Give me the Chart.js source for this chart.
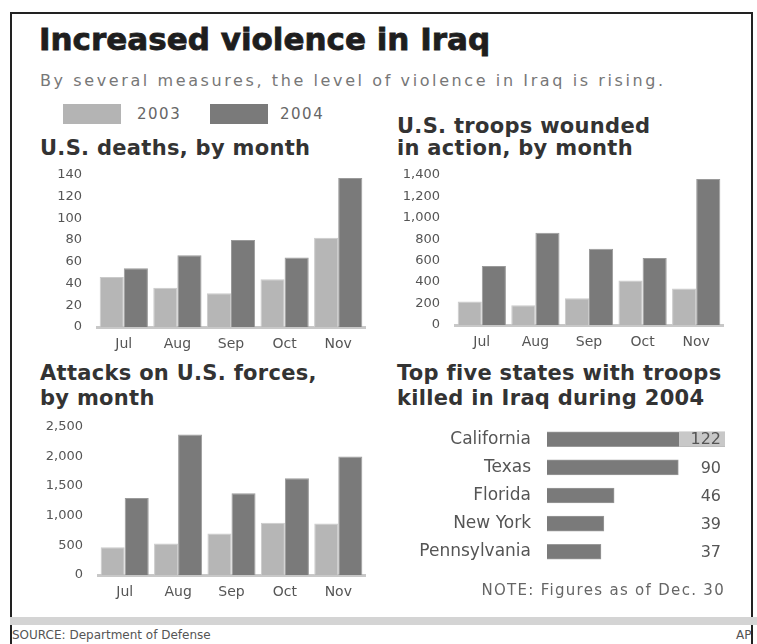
<!DOCTYPE html>
<html>
<head>
<meta charset="utf-8">
<script src="https://cdn.jsdelivr.net/npm/chart.js@4.4.0/dist/chart.umd.min.js"></script>
<style>
    body { margin: 0; background: #fff; width: 757px; height: 644px; overflow: hidden; position: relative; font-family: "DejaVu Sans", sans-serif; }
    .abs { position: absolute; white-space: nowrap; }
    .frame { left: 10px; top: 12px; width: 739px; height: 700px; border: 2px solid #222; }
    .title { left: 39px; top: 24px; font-size: 31px; line-height: 31px; font-weight: bold; color: #1e1e1e; -webkit-text-stroke: 0.8px #1e1e1e; }
    .sub { left: 40px; top: 72px; font-size: 16px; line-height: 18px; color: #777; letter-spacing: 2.6px; }
    .head { font-size: 21px; line-height: 21px; font-weight: bold; color: #333; letter-spacing: 0.3px; }
    .swatch { width: 58px; height: 20px; }
    .legtxt { font-size: 15px; line-height: 15px; color: #666; letter-spacing: 1.5px; }
    .note { right: 32px; top: 581px; font-size: 15px; color: #666; letter-spacing: 1.3px; }
    .band { left: 10px; top: 617px; width: 747px; height: 8px; background: #d4d4d4; }
    .source { left: 12px; top: 628px; font-size: 12px; color: #555; }
    canvas { position: absolute; }
</style>
</head>
<body>
<div class="abs frame"></div>
<div class="abs title">Increased violence in Iraq</div>
<div class="abs sub">By several measures, the level of violence in Iraq is rising.</div>

<div class="abs swatch" style="left:63px; top:104px; background:#b4b4b4;"></div>
<div class="abs legtxt" style="left:137px; top:107px;">2003</div>
<div class="abs swatch" style="left:210px; top:104px; background:#7a7a7a;"></div>
<div class="abs legtxt" style="left:280px; top:107px;">2004</div>

<div class="abs head" style="left:40px; top:138px;">U.S. deaths, by month</div>
<div class="abs head" style="left:397px; top:116px;">U.S. troops wounded</div>
<div class="abs head" style="left:397px; top:138px;">in action, by month</div>
<div class="abs head" style="left:40px; top:363px;">Attacks on U.S. forces,</div>
<div class="abs head" style="left:40px; top:388px;">by month</div>
<div class="abs head" style="left:397px; top:363px;">Top five states with troops</div>
<div class="abs head" style="left:397px; top:388px;">killed in Iraq during 2004</div>

<canvas id="deaths" style="left:40px; top:160px;" width="330" height="197"></canvas>
<canvas id="wounded" style="left:398px; top:160px;" width="330" height="195"></canvas>
<canvas id="attacks" style="left:41px; top:412px;" width="329" height="193"></canvas>
<canvas id="states" style="left:397px; top:407px;" width="340" height="177"></canvas>

<div class="abs note">NOTE: Figures as of Dec. 30</div>
<div class="abs band"></div>
<div class="abs source">SOURCE: Department of Defense</div>
<div class="abs source" style="left:736px;">AP</div>

<script>
// month categories
const months = ['Jul', 'Aug', 'Sep', 'Oct', 'Nov'];
const years = ['2003', '2004'];

// U.S. deaths, by month
const deaths2003 = [46, 36, 31, 44, 82];
const deaths2004 = [54, 66, 80, 64, 137];
const deathTicks = [0, 20, 40, 60, 80, 100, 120, 140];

// U.S. troops wounded in action, by month
const wounded2003 = [220, 185, 250, 415, 340];
const wounded2004 = [550, 860, 710, 625, 1360];
const woundedTicks = [0, 200, 400, 600, 800, 1000, 1200, 1400];

// attacks on U.S. forces, by month
const attacks2003 = [470, 530, 700, 880, 870];
const attacks2004 = [1300, 2370, 1380, 1630, 2000];
const attackTicks = [0, 500, 1000, 1500, 2000, 2500];

// top five states, troops killed during 2004
const states = ['California', 'Texas', 'Florida', 'New York', 'Pennsylvania'];
const stateDeaths = [122, 90, 46, 39, 37];

const lightGray = '#b6b6b6';
const darkGray = '#7a7a7a';

// builds one of the grouped month bar charts
function monthChart(id, data03, data04, ticks) {
    const ctx = document.getElementById(id);
    return new Chart(ctx, {
        type: 'bar',
        data: {
            labels: months,
            datasets: [{
                label: years[0],
                data: data03,
                backgroundColor: lightGray,
                borderColor: '#cacaca',
                borderWidth: 1
            }, {
                label: years[1],
                data: data04,
                backgroundColor: darkGray,
                borderColor: '#9a9a9a',
                borderWidth: 1
            }]
        },
        options: {
            responsive: false,
            animation: false,
            layout: { padding: { top: 13, right: 5, left: 0, bottom: 0 } },
            plugins: { legend: { display: false }, tooltip: { enabled: false } },
            datasets: { bar: { categoryPercentage: 0.9, barPercentage: 1.0 } },
            scales: {
                x: {
                    grid: { display: false },
                    border: { color: '#c8c8c8', width: 3 },
                    ticks: { color: '#555', font: { family: 'DejaVu Sans', size: 14 }, padding: 1 },
                    afterFit: (scale) => { scale.height = 30; }
                },
                y: {
                    min: ticks[0],
                    max: ticks[ticks.length - 1],
                    afterBuildTicks: (scale) => { scale.ticks = ticks.map(v => ({ value: v })); },
                    grid: { display: false },
                    border: { display: false },
                    ticks: {
                        color: '#555',
                        font: { family: 'DejaVu Sans', size: 13 },
                        padding: 7,
                        callback: (v) => v.toLocaleString('en-US')
                    },
                    afterFit: (scale) => { scale.width = 57; }
                }
            }
        }
    });
}

monthChart('deaths', deaths2003, deaths2004, deathTicks);
monthChart('wounded', wounded2003, wounded2004, woundedTicks);
monthChart('attacks', attacks2003, attacks2004, attackTicks);

// draws the numbers in a column right of the state bars
const valueLabels = {
    id: 'valueLabels',
    afterDatasetsDraw(chart) {
        const c = chart.ctx;
        const meta = chart.getDatasetMeta(0);
        c.save();
        c.font = '16px "DejaVu Sans"';
        c.textAlign = 'right';
        c.textBaseline = 'middle';
        meta.data.forEach((bar, i) => {
            const labelLeft = chart.chartArea.right - 46;
            if (bar.x > labelLeft) {
                c.fillStyle = '#c8c8c8';
                c.fillRect(labelLeft, bar.y - bar.height / 2, bar.x - labelLeft, bar.height);
            }
            c.fillStyle = '#555';
            c.fillText(stateDeaths[i], chart.chartArea.right - 4, bar.y + 1);
        });
        c.restore();
    }
};

new Chart(document.getElementById('states'), {
    type: 'bar',
    data: {
        labels: states,
        datasets: [{
            data: stateDeaths,
            backgroundColor: darkGray,
            borderColor: '#9a9a9a',
            borderWidth: 1,
            barThickness: 15
        }]
    },
    options: {
        indexAxis: 'y',
        responsive: false,
        animation: false,
        layout: { padding: { top: 6, right: 12, left: 0, bottom: 7 } },
        plugins: { legend: { display: false }, tooltip: { enabled: false } },
        scales: {
            x: { display: false, min: 0, max: 122 },
            y: {
                grid: { display: false },
                border: { display: false },
                ticks: { color: '#555', font: { family: 'DejaVu Sans', size: 17 }, padding: 8 },
                afterFit: (scale) => { scale.width = 150; }
            }
        }
    },
    plugins: [valueLabels]
});
</script>
</body>
</html>
